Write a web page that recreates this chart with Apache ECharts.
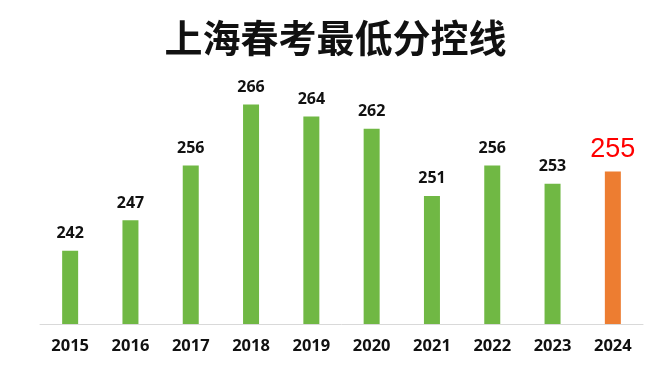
<!DOCTYPE html>
<html><head><meta charset="utf-8">
<script src="https://cdn.jsdelivr.net/npm/echarts@6/dist/echarts.min.js"></script>
<style>html,body{margin:0;padding:0;background:#fff}#c{width:671px;height:374px}</style>
</head><body><div id="c"></div>
<script>
const years = ['2015','2016','2017','2018','2019','2020','2021','2022','2023','2024'];
const scores = [242,247,256,266,264,262,251,256,253,255];
const highlightIndex = 9;

const chart = echarts.init(document.getElementById('c'));
const data = scores.map((v,i)=> i===highlightIndex ? {
  value: v,
  itemStyle: {color:'#ED7D31'},
  label: {color:'#FF0000', fontSize:27, fontWeight:'normal', fontFamily:'Liberation Sans, Arial', distance:8}
} : v);
chart.setOption({
  animation:false,
  title:{text:'上海春考最低分控线', left:'center', top:14,
    textStyle:{fontFamily:'Noto Sans CJK SC', fontWeight:'bold', fontSize:38, color:'#111'}},
  grid:{left:40, right:28, top:80, bottom:50},
  xAxis:{type:'category', data:years,
    axisLine:{lineStyle:{color:'#D9D9D9', width:1}},
    axisTick:{show:false},
    axisLabel:{color:'#111', fontWeight:'bold', fontSize:16.5, fontFamily:'Open Sans, Liberation Sans', margin:14}},
  yAxis:{type:'value', min:230, max:270, show:false, splitLine:{show:false}},
  series:[{type:'bar', data:data, barWidth:16, itemStyle:{color:'#70B844'},
    label:{show:true, position:'top', distance:9, color:'#111', fontSize:16, fontWeight:'bold', fontFamily:'Open Sans, Liberation Sans'}}]
});
</script></body></html>
